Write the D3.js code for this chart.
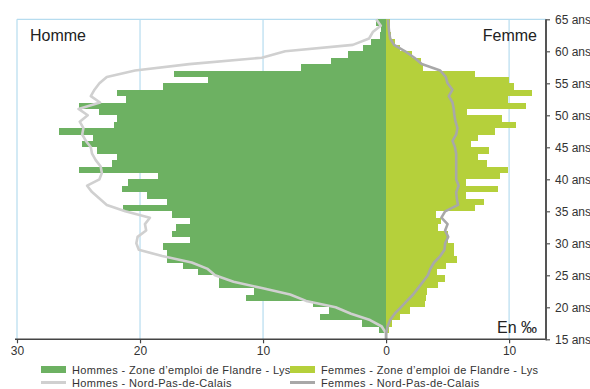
<!DOCTYPE html>
<html><head><meta charset="utf-8">
<script src="https://cdn.jsdelivr.net/npm/d3@7"></script>
<style>
html,body{margin:0;padding:0;background:#fff;}
svg{display:block;font-family:Arial,"Liberation Sans",Helvetica,sans-serif;}
</style></head>
<body>
<svg id="chart" width="590" height="389"></svg>
<script>
// Ages of the bars (one bar per year of age)
const ages = [15,16,17,18,19,20,21,22,23,24,25,26,27,28,29,30,31,32,33,34,35,36,37,38,39,
  40,41,42,43,44,45,46,47,48,49,50,51,52,53,54,55,56,57,58,59,60,61,62,63,64];
// Hommes - Zone d'emploi de Flandre - Lys (‰)
const menZone = [0.1,0.57,1.95,5.37,4.6,5.9,11.4,10.7,13.55,13.55,15.3,16.5,17.8,17.8,18.1,15.9,17.4,17.1,15.9,17.4,
  21.4,17.8,19.4,21.5,21.0,18.5,25.0,22.3,21.9,23.5,24.7,23.8,26.6,22.1,21.9,23.3,25.0,21.1,21.9,18.1,
  14.5,17.2,6.9,4.47,3.06,1.9,1.24,0.5,0.45,0.8];
// Femmes - Zone d'emploi de Flandre - Lys (‰)
const womenZone = [0.1,0.2,0.5,1.17,1.93,3.15,3.23,3.3,4.2,4.77,4.15,4.9,5.8,5.5,5.5,5.07,5.07,4.2,4.5,4.05,
  7.2,7.95,6.5,9.1,6.5,9.27,9.92,8.18,7.45,8.37,6.9,7.5,8.86,10.6,9.4,6.6,11.38,9.95,11.87,10.4,
  10.03,7.24,3.0,2.8,2.1,1.1,0.7,0.4,0.3,0.3];
// Ages of the regional reference lines
const lineAges = [15,16,17,18,19,20,21,22,23,24,25,26,27,28,29,30,31,32,33,34,35,36,37,38,39,
  40,41,42,43,44,45,46,47,48,49,50,51,52,53,54,55,56,57,58,59,60,61,62,63,64,65];
// Hommes - Nord-Pas-de-Calais (‰)
const menRegion = [0,0.03,0.35,1.3,2.85,4.1,6.5,7.8,10.1,12.4,13.9,14.5,15.8,18.2,20.1,20.3,20.2,19.5,19.6,19.2,
  21.2,22.7,23.3,23.9,24.3,23.3,23.1,23.2,23.6,23.9,24.0,24.4,24.7,24.6,24.9,24.25,25.0,23.25,24.0,23.7,
  23.3,22.7,20.4,16.0,10.1,8.2,2.7,1.38,1.08,0.43,0.8];
// Femmes - Nord-Pas-de-Calais (‰)
const womenRegion = [0,0.02,0.12,0.33,0.7,1.2,1.7,2.2,2.6,3.0,3.4,3.6,3.9,4.4,4.75,4.8,5.05,4.8,5.0,4.5,
  4.8,5.85,5.75,5.7,5.9,5.7,5.7,5.7,5.7,5.7,5.6,5.4,5.7,5.8,5.65,5.55,5.5,5.4,5.1,5.4,
  5.0,4.85,4.4,2.9,2.3,1.55,0.65,0.33,0.25,0.2,0.15];
// Axis ticks
const xTicks = [-30,-20,-10,0,10];
const yTicks = [15,20,25,30,35,40,45,50,55,60,65];
const legendItems = [
  {label:"Hommes - Zone d\u2019emploi de Flandre - Lys", type:"bar", color:"#6db162"},
  {label:"Femmes - Zone d\u2019emploi de Flandre - Lys", type:"bar", color:"#b5d03b"},
  {label:"Hommes - Nord-Pas-de-Calais", type:"line", color:"#d0d0d0"},
  {label:"Femmes - Nord-Pas-de-Calais", type:"line", color:"#a8a8a8"}
];

const svg = d3.select("#chart");
const x = d3.scaleLinear().domain([-30, 13]).range([17, 546]);
const y = d3.scaleLinear().domain([15, 65]).range([339.3, 19.3]);

const grid = "#b6dcef";
// gridlines
svg.append("g").selectAll("line").data(xTicks).join("line")
  .attr("x1", d => x(d)).attr("x2", d => x(d))
  .attr("y1", y(65)).attr("y2", y(15))
  .attr("stroke", grid).attr("stroke-width", 1.2);
svg.append("line").attr("x1", x(-30)).attr("x2", x(13)).attr("y1", y(65)).attr("y2", y(65))
  .attr("stroke", grid).attr("stroke-width", 1.2);

// bars
svg.append("g").selectAll("rect").data(ages).join("rect")
  .attr("x", (d,i) => x(-menZone[i]))
  .attr("width", (d,i) => x(0) - x(-menZone[i]))
  .attr("y", d => y(d + 1))
  .attr("height", d => y(d) - y(d + 1))
  .attr("fill", legendItems[0].color)
  .attr("shape-rendering", "crispEdges");
svg.append("g").selectAll("rect").data(ages).join("rect")
  .attr("x", x(0))
  .attr("width", (d,i) => x(womenZone[i]) - x(0))
  .attr("y", d => y(d + 1))
  .attr("height", d => y(d) - y(d + 1))
  .attr("fill", legendItems[1].color)
  .attr("shape-rendering", "crispEdges");

// lines
const menLine = d3.line().x((d,i) => x(-menRegion[i])).y(d => y(d));
const womenLine = d3.line().x((d,i) => x(womenRegion[i])).y(d => y(d));
svg.append("path").datum(lineAges).attr("d", menLine)
  .attr("fill","none").attr("stroke", legendItems[2].color).attr("stroke-width", 2.6).attr("stroke-linejoin","round");
svg.append("path").datum(lineAges).attr("d", womenLine)
  .attr("fill","none").attr("stroke", legendItems[3].color).attr("stroke-width", 2.6).attr("stroke-linejoin","round");

// bottom axis
const xAxis = svg.append("g").attr("transform", `translate(0,${y(15)})`)
  .call(d3.axisBottom(x).tickValues(xTicks).tickFormat(d => Math.abs(d)).tickSize(4).tickPadding(3));
xAxis.select(".domain").attr("d", `M15,0H${x(13)}`).attr("stroke","#444").attr("stroke-width",1.5);
xAxis.selectAll(".tick line").attr("stroke","#444").attr("stroke-width",1.2);
xAxis.selectAll(".tick text").attr("font-size", 12).attr("fill","#333")
  .attr("font-family","Arial, 'Liberation Sans', sans-serif");

// right axis
const yAxis = svg.append("g").attr("transform", `translate(${x(13)},0)`)
  .call(d3.axisRight(y).tickValues(yTicks).tickFormat(d => d + " ans").tickSize(4).tickPadding(5));
yAxis.select(".domain").attr("d", `M0,${y(65)}V${y(15)+1}`).attr("stroke","#555").attr("stroke-width",2);
yAxis.selectAll(".tick line").attr("stroke","#555").attr("stroke-width",1.2);
yAxis.selectAll(".tick text").attr("font-size", 12).attr("fill","#333")
  .attr("font-family","Arial, 'Liberation Sans', sans-serif");

// labels
svg.append("text").attr("x", 30).attr("y", 41).text("Homme")
  .attr("font-size", 16).attr("fill", "#222");
svg.append("text").attr("x", 537).attr("y", 41).attr("text-anchor","end").text("Femme")
  .attr("font-size", 16).attr("fill", "#222");
svg.append("text").attr("x", 537).attr("y", 333).attr("text-anchor","end").text("En \u2030")
  .attr("font-size", 16).attr("fill", "#222");

// legend
const lg = svg.append("g").selectAll("g").data(legendItems).join("g")
  .attr("transform", (d,i) => `translate(${i % 2 === 0 ? 41 : 290},${i < 2 ? 369.5 : 382.5})`);
lg.each(function(d) {
  const g = d3.select(this);
  if (d.type === "bar") {
    g.append("rect").attr("x",0).attr("y",-3.5).attr("width",25).attr("height",7).attr("fill", d.color);
  } else {
    g.append("line").attr("x1",0).attr("x2",25).attr("y1",0).attr("y2",0)
      .attr("stroke", d.color).attr("stroke-width",3);
  }
  g.append("text").attr("x", 31).attr("y", 4).text(d.label)
    .attr("font-size", 11).attr("letter-spacing", 0.35).attr("fill", "#333");
});
</script>
</body></html>
